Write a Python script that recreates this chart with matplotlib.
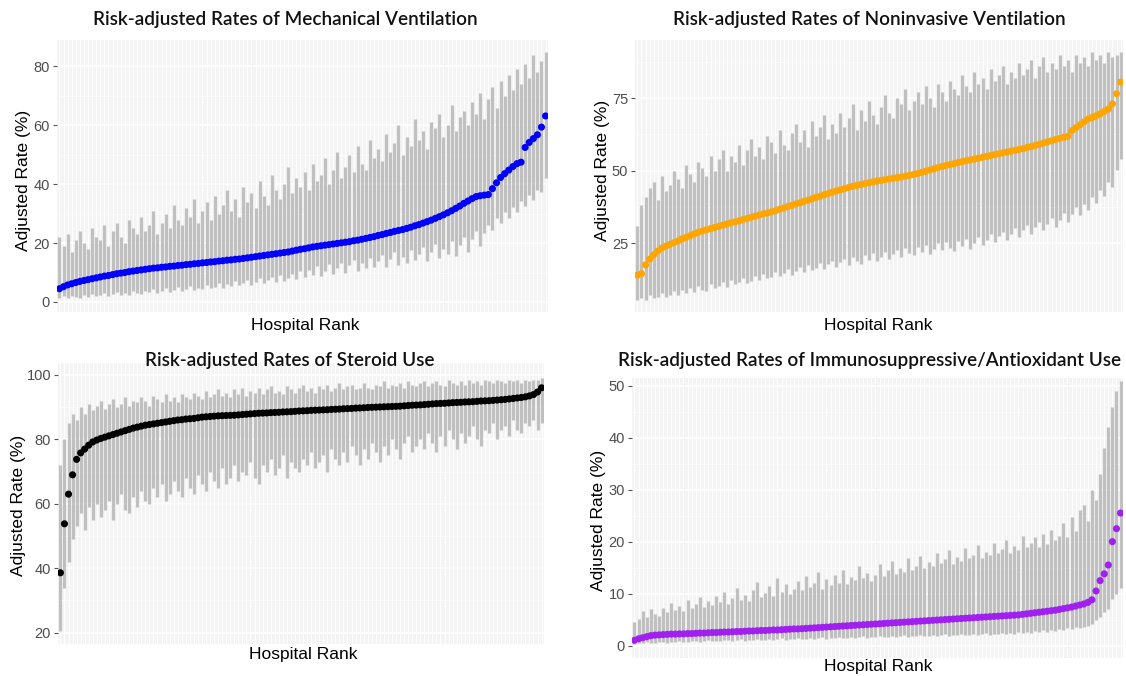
"""
plot.py

Risk-adjusted hospital rates for four treatments, hospitals ranked by
adjusted rate, with 95% intervals drawn as grey bars behind each point.
"""

import matplotlib
matplotlib.use("Agg")
import matplotlib.pyplot as plt
import numpy as np

# ── Data (120 ranked hospitals per panel) ──────────────────────────────────────

MECH_RATE = [
    4.5, 5.2, 5.8, 6.2, 6.6, 7.0, 7.3, 7.6, 7.9, 8.2,
    8.5, 8.8, 9.0, 9.3, 9.6, 9.8, 10.0, 10.3, 10.5, 10.7,
    10.9, 11.1, 11.3, 11.5, 11.6, 11.8, 11.9, 12.1, 12.2, 12.4,
    12.5, 12.7, 12.8, 13.0, 13.1, 13.3, 13.4, 13.6, 13.7, 13.9,
    14.0, 14.2, 14.3, 14.5, 14.6, 14.8, 15.0, 15.2, 15.4, 15.6,
    15.8, 16.0, 16.2, 16.4, 16.6, 16.8, 17.0, 17.3, 17.6, 17.9,
    18.1, 18.4, 18.7, 18.9, 19.1, 19.3, 19.5, 19.7, 19.9, 20.1,
    20.3, 20.5, 20.8, 21.0, 21.3, 21.6, 21.9, 22.2, 22.6, 22.9,
    23.3, 23.6, 24.0, 24.3, 24.6, 25.0, 25.4, 25.9, 26.3, 26.8,
    27.3, 27.8, 28.4, 29.0, 29.6, 30.3, 31.0, 31.8, 32.6, 33.5,
    34.3, 35.1, 35.8, 36.1, 36.3, 36.5, 38.5, 40.5, 42.3, 43.6,
    44.8, 46.0, 47.0, 47.5, 52.5, 54.2, 55.5, 56.8, 59.4, 63.2,
]
MECH_LO = [
    1.3, 1.9, 1.2, 2.2, 1.7, 1.5, 2.4, 1.8, 2.7, 2.0,
    2.3, 3.1, 2.1, 2.8, 3.4, 2.5, 3.0, 2.4, 3.6, 3.2,
    2.8, 3.9, 3.3, 4.4, 3.0, 3.7, 4.6, 3.4, 4.1, 5.0,
    3.8, 4.5, 5.4, 4.0, 4.9, 4.3, 5.8, 4.7, 5.2, 6.3,
    4.9, 6.0, 5.4, 7.1, 5.7, 6.5, 7.5, 5.9, 6.9, 8.0,
    6.4, 7.6, 8.6, 6.8, 9.0, 7.3, 8.3, 9.6, 7.7, 10.4,
    8.5, 11.0, 9.0, 12.2, 8.7, 10.6, 12.8, 9.5, 11.5, 13.4,
    10.0, 12.4, 14.2, 10.6, 13.1, 11.4, 15.0, 12.0, 13.8, 16.1,
    11.8, 14.6, 16.9, 12.6, 15.4, 13.4, 17.7, 14.1, 16.2, 18.8,
    13.9, 17.0, 19.6, 15.0, 18.1, 16.2, 20.8, 15.6, 19.3, 22.0,
    17.1, 21.4, 24.1, 19.0, 23.4, 26.3, 24.6, 28.4, 26.7, 30.5,
    28.6, 32.4, 30.6, 34.3, 32.7, 36.5, 34.6, 38.2, 37.4, 42.0,
]
MECH_HI = [
    22, 19, 23, 17, 21, 24, 20, 18, 25, 22,
    21, 26, 19, 24, 27, 22, 20, 28, 25, 23,
    29, 24, 26, 31, 23, 27, 30, 25, 33, 28,
    26, 32, 29, 35, 27, 31, 34, 28, 36, 30,
    33, 38, 31, 35, 29, 39, 34, 37, 32, 41,
    36, 33, 43, 38, 35, 40, 46, 37, 42, 39,
    44, 38, 47, 41, 43, 49, 40, 45, 51, 42,
    46, 50, 44, 53, 47, 45, 55, 49, 52, 48,
    57, 51, 54, 60, 50, 56, 53, 62, 55, 58,
    52, 61, 59, 64, 56, 60, 67, 58, 63, 65,
    60, 68, 64, 71, 62, 69, 73, 66, 75, 70,
    77, 72, 79, 74, 81, 76, 84, 78, 82, 85,
]

NIV_RATE = [
    14.0, 14.5, 17.5, 19.5, 21.0, 22.3, 23.3, 24.0, 24.6, 25.2,
    25.8, 26.5, 27.0, 27.6, 28.2, 28.8, 29.2, 29.6, 30.0, 30.4,
    30.8, 31.2, 31.6, 32.0, 32.3, 32.7, 33.1, 33.5, 33.9, 34.3,
    34.7, 35.1, 35.4, 35.8, 36.2, 36.7, 37.1, 37.6, 38.0, 38.5,
    38.9, 39.4, 39.8, 40.3, 40.8, 41.2, 41.7, 42.1, 42.6, 43.0,
    43.4, 43.8, 44.2, 44.6, 44.9, 45.2, 45.5, 45.8, 46.1, 46.4,
    46.6, 46.9, 47.1, 47.4, 47.6, 47.8, 48.1, 48.4, 48.7, 49.0,
    49.4, 49.8, 50.2, 50.6, 51.0, 51.4, 51.8, 52.1, 52.4, 52.8,
    53.1, 53.4, 53.7, 54.0, 54.3, 54.6, 54.9, 55.2, 55.5, 55.8,
    56.1, 56.4, 56.7, 57.0, 57.3, 57.6, 58.0, 58.3, 58.7, 59.1,
    59.5, 59.9, 60.3, 60.7, 61.1, 61.5, 61.8, 63.8, 64.8, 65.8,
    66.8, 67.8, 68.3, 68.9, 69.6, 70.4, 71.2, 73.0, 76.5, 80.5,
]
NIV_LO = [
    5.5, 6.2, 5.4, 7.0, 6.0, 6.6, 7.8, 6.3, 7.3, 8.4,
    7.0, 8.9, 7.7, 9.6, 8.2, 10.4, 9.0, 8.6, 11.0, 9.4,
    10.1, 11.8, 9.9, 12.4, 10.8, 11.5, 13.0, 11.2, 12.0, 13.7,
    12.3, 14.4, 12.9, 13.5, 15.2, 13.8, 14.6, 16.0, 14.1, 15.5,
    16.8, 15.0, 17.5, 15.9, 16.4, 18.3, 16.2, 17.8, 19.0, 16.9,
    18.6, 19.7, 17.4, 20.3, 18.9, 17.9, 20.9, 19.3, 21.5, 18.8,
    20.4, 22.1, 19.6, 21.2, 22.7, 20.2, 23.2, 21.6, 20.8, 23.8,
    22.0, 24.3, 21.4, 23.0, 24.9, 22.6, 25.4, 23.4, 22.2, 25.9,
    24.0, 26.4, 23.1, 25.0, 27.0, 24.4, 26.2, 28.1, 25.3, 27.4,
    29.0, 26.0, 28.3, 30.1, 27.1, 29.4, 31.2, 28.0, 30.5, 32.4,
    29.4, 31.6, 33.8, 30.7, 33.0, 35.4, 32.2, 35.0, 37.5, 34.8,
    38.6, 36.5, 41.0, 38.8, 43.4, 41.2, 46.0, 44.5, 50.2, 54.0,
]
NIV_HI = [
    31, 38, 41, 44, 46, 40, 48, 43, 45, 50,
    47, 44, 52, 49, 46, 53, 51, 48, 55, 50,
    54, 57, 50, 55, 53, 59, 52, 57, 61, 55,
    58, 54, 62, 60, 56, 64, 59, 57, 63, 66,
    60, 64, 58, 67, 62, 65, 69, 61, 66, 63,
    70, 65, 68, 73, 64, 71, 67, 74, 69, 66,
    72, 76, 70, 68, 75, 73, 78, 71, 74, 77,
    73, 79, 75, 72, 80, 77, 74, 81, 78, 76,
    83, 79, 77, 84, 80, 82, 78, 85, 81, 83,
    86, 80, 84, 82, 87, 83, 85, 88, 82, 86,
    89, 84, 87, 85, 90, 86, 88, 84, 90, 87,
    89, 86, 91, 88, 90, 87, 91, 89, 90, 91,
]

STEROID_RATE = [
    38.6, 53.8, 63.0, 69.0, 73.8, 75.8, 77.0, 78.2, 79.2, 79.8,
    80.3, 80.7, 81.1, 81.5, 81.9, 82.3, 82.7, 83.1, 83.5, 83.8,
    84.1, 84.4, 84.6, 84.8, 85.0, 85.2, 85.4, 85.6, 85.8, 86.0,
    86.1, 86.3, 86.4, 86.5, 86.7, 86.9, 87.0, 87.1, 87.2, 87.3,
    87.35, 87.4, 87.45, 87.5, 87.6, 87.7, 87.8, 87.9, 88.0, 88.1,
    88.15, 88.2, 88.3, 88.35, 88.4, 88.5, 88.55, 88.6, 88.7, 88.8,
    88.85, 88.9, 89.0, 89.05, 89.1, 89.15, 89.2, 89.3, 89.35, 89.4,
    89.5, 89.55, 89.6, 89.7, 89.75, 89.8, 89.9, 89.95, 90.0, 90.05,
    90.1, 90.15, 90.2, 90.25, 90.3, 90.4, 90.5, 90.6, 90.65, 90.7,
    90.8, 90.9, 91.0, 91.1, 91.15, 91.2, 91.3, 91.4, 91.45, 91.5,
    91.6, 91.65, 91.7, 91.8, 91.9, 91.95, 92.0, 92.1, 92.2, 92.3,
    92.4, 92.55, 92.7, 92.85, 93.0, 93.2, 93.5, 93.9, 94.7, 96.0,
]
STEROID_LO = [
    20.5, 34, 42, 49, 53, 57, 52, 59, 55, 60,
    56, 58, 61, 55, 60, 63, 58, 57, 62, 59,
    64, 61, 60, 65, 62, 66, 61, 63, 67, 64,
    62, 68, 65, 63, 69, 66, 64, 70, 67, 65,
    71, 66, 68, 72, 67, 70, 69, 73, 68, 66,
    72, 70, 74, 69, 71, 75, 68, 73, 71, 70,
    74, 72, 76, 71, 73, 75, 70, 77, 74, 72,
    76, 73, 78, 75, 72, 77, 74, 79, 76, 73,
    78, 75, 80, 77, 74, 79, 81, 76, 78, 80,
    77, 82, 79, 76, 81, 78, 83, 80, 77, 82,
    79, 81, 84, 80, 78, 83, 82, 85, 80, 83,
    84, 81, 86, 83, 82, 85, 84, 86, 83, 85,
]
STEROID_HI = [
    72, 80, 85, 88, 86, 90, 88, 91, 89, 90.5,
    92, 89.5, 91, 92.5, 90, 91, 93, 90.5, 92, 91.5,
    93, 92, 90.5, 93.5, 92.5, 91.5, 94, 92, 93, 91.5,
    94, 93, 92.5, 94.5, 93.5, 92.5, 95, 93, 94, 95.5,
    93.5, 94.5, 93, 95.5, 94, 96, 93.5, 95, 94.5, 96,
    94, 95.5, 96.5, 94.5, 95, 94, 96.5, 95.5, 94.5, 96,
    97, 95, 96, 94.5, 96.5, 95.5, 97, 95, 96, 97.5,
    95.5, 96.5, 97, 95.5, 96, 97.5, 96, 95.5, 97, 96.5,
    98, 96, 97, 96.5, 97.5, 96, 98, 97, 96.5, 97.5,
    98, 96.5, 97.5, 98, 97, 96.5, 98.5, 97.5, 97, 98,
    97, 98.5, 97.5, 98, 97, 98.5, 98, 97.5, 98.5, 98,
    97.5, 98.5, 98, 98.5, 97.5, 98.5, 98, 98.5, 98.5, 99,
]

IMMUNO_RATE = [
    1.0, 1.3, 1.5, 1.7, 1.9, 2.0, 2.05, 2.1, 2.15, 2.2,
    2.2, 2.25, 2.25, 2.3, 2.3, 2.35, 2.4, 2.4, 2.45, 2.5,
    2.5, 2.55, 2.6, 2.6, 2.65, 2.7, 2.7, 2.75, 2.8, 2.8,
    2.85, 2.9, 2.9, 2.95, 3.0, 3.0, 3.05, 3.1, 3.15, 3.2,
    3.2, 3.25, 3.3, 3.35, 3.4, 3.45, 3.5, 3.55, 3.6, 3.65,
    3.7, 3.75, 3.8, 3.85, 3.9, 3.95, 4.0, 4.05, 4.1, 4.15,
    4.2, 4.25, 4.3, 4.35, 4.4, 4.45, 4.5, 4.55, 4.6, 4.65,
    4.7, 4.75, 4.8, 4.85, 4.9, 4.95, 5.0, 5.05, 5.1, 5.15,
    5.2, 5.25, 5.3, 5.35, 5.4, 5.45, 5.5, 5.55, 5.6, 5.65,
    5.7, 5.75, 5.8, 5.85, 5.9, 6.0, 6.1, 6.2, 6.3, 6.4,
    6.5, 6.6, 6.7, 6.8, 6.95, 7.1, 7.25, 7.4, 7.6, 7.8,
    8.0, 8.3, 8.8, 10.5, 12.5, 13.8, 15.5, 20.0, 22.5, 25.5,
]
IMMUNO_LO = [
    0.3, 0.4, 0.4, 0.6, 0.5, 0.5, 0.7, 0.6, 0.5, 0.7,
    0.6, 0.8, 0.7, 0.6, 0.8, 0.9, 0.7, 0.8, 1.0, 0.8,
    0.9, 0.8, 1.0, 1.1, 0.9, 1.0, 1.2, 0.9, 1.1, 1.0,
    1.2, 1.0, 1.1, 1.3, 1.1, 1.2, 1.4, 1.1, 1.3, 1.2,
    1.4, 1.2, 1.3, 1.5, 1.3, 1.4, 1.6, 1.3, 1.5, 1.4,
    1.6, 1.4, 1.5, 1.7, 1.5, 1.6, 1.8, 1.5, 1.7, 1.6,
    1.8, 1.6, 1.7, 1.9, 1.7, 1.8, 2.0, 1.7, 1.9, 1.8,
    2.0, 1.8, 1.9, 2.1, 1.9, 2.0, 2.2, 1.9, 2.1, 2.0,
    2.2, 2.0, 2.1, 2.3, 2.1, 2.2, 2.4, 2.1, 2.3, 2.2,
    2.4, 2.2, 2.5, 2.3, 2.6, 2.4, 2.7, 2.5, 2.8, 2.6,
    2.9, 2.7, 3.0, 2.8, 3.2, 3.0, 3.3, 3.1, 3.5, 3.3,
    3.6, 3.8, 4.2, 5.0, 5.5, 6.5, 7.0, 9.0, 10.0, 11.0,
]
IMMUNO_HI = [
    4.5, 5.2, 6.6, 5.4, 7.0, 6.1, 5.6, 7.3, 6.4, 8.2,
    6.9, 7.6, 6.6, 8.8, 7.2, 8.0, 9.3, 7.4, 8.5, 7.8,
    9.6, 8.3, 10.4, 8.0, 9.1, 11.0, 8.7, 9.8, 8.5, 10.6,
    12.2, 9.3, 10.1, 11.5, 9.6, 13.0, 10.3, 11.9, 9.9, 10.9,
    12.5, 10.6, 13.4, 11.2, 12.0, 14.1, 10.9, 12.8, 11.6, 13.6,
    12.1, 14.6, 11.8, 13.2, 12.6, 15.3, 13.0, 14.0, 12.4, 13.6,
    15.6, 13.4, 14.5, 16.2, 13.8, 15.0, 14.2, 16.8, 14.6, 15.4,
    17.2, 15.0, 16.0, 15.4, 17.8, 15.8, 16.6, 18.3, 15.7, 17.0,
    16.3, 18.8, 16.8, 17.5, 19.4, 16.9, 18.1, 17.4, 19.8, 17.8,
    18.6, 20.4, 17.9, 19.1, 18.3, 21.0, 18.9, 19.7, 20.8, 19.0,
    21.4, 19.6, 22.3, 20.4, 21.1, 23.6, 20.8, 24.7, 22.0, 26.0,
    27.0, 24.0, 30.0, 28.0, 33.0, 38.0, 42.0, 46.0, 49.0, 51.0,
]

TITLES = [
    "Risk-adjusted Rates of Mechanical Ventilation",
    "Risk-adjusted Rates of Noninvasive Ventilation",
    "Risk-adjusted Rates of Steroid Use",
    "Risk-adjusted Rates of Immunosuppressive/Antioxidant Use",
]
Y_TICKS = [
    [0, 20, 40, 60, 80],
    [25, 50, 75],
    [20, 40, 60, 80, 100],
    [0, 10, 20, 30, 40, 50],
]
POINT_COLORS = ["#0000FF", "#FFA500", "#000000", "#A020F0"]

# ── Layout (pixels of the 1126x676 canvas) ─────────────────────────────────────

W, H = 1126, 676

PANELS = [
    # axes box (left, top, right, bottom), ylim, title centre, xlabel centre, ylabel centre
    {"box": (57, 40, 548, 312), "ylim": (-3.4, 89.0),
     "title": (285, 20), "xlab": (305, 325), "ylab": (24, 180)},
    {"box": (635, 40, 1123, 312), "ylim": (1.3, 95.0),
     "title": (869, 20), "xlab": (878, 325), "ylab": (602, 170)},
    {"box": (58, 363, 544, 644), "ylim": (16.5, 103.7),
     "title": (290, 360), "xlab": (303, 655), "ylab": (19, 505)},
    {"box": (632, 378, 1123, 658), "ylim": (-2.4, 51.5),
     "title": (870, 360), "xlab": (878, 667), "ylab": (598, 520)},
]

SERIES = [
    (MECH_RATE, MECH_LO, MECH_HI),
    (NIV_RATE, NIV_LO, NIV_HI),
    (STEROID_RATE, STEROID_LO, STEROID_HI),
    (IMMUNO_RATE, IMMUNO_LO, IMMUNO_HI),
]


def fx(px):
    return px / W


def fy(py):
    return 1 - py / H


def draw_panel(fig, cfg, rate, lo, hi, color, yticks, title):
    l, t, r, b = cfg["box"]
    ax = fig.add_axes([fx(l), fy(b), fx(r) - fx(l), fy(t) - fy(b)])
    ax.set_facecolor("#F4F4F4")

    x = np.arange(len(rate))
    ax.set_xlim(-0.6, len(rate) - 0.4)
    ax.set_ylim(*cfg["ylim"])

    # ggplot-style grid: white line per hospital + major/minor horizontals
    for xi in x:
        ax.axvline(xi, color="white", lw=0.7, zorder=0)
    step = yticks[1] - yticks[0]
    for yt in yticks:
        ax.axhline(yt, color="white", lw=1.1, zorder=0)
        ax.axhline(yt + step / 2, color="white", lw=0.5, zorder=0)

    ax.vlines(x, lo, hi, color="#C0C0C0", lw=2.3, zorder=2)
    ax.scatter(x, rate, s=26, color=color, edgecolors="none", zorder=3)

    ax.set_xticks([])
    ax.set_yticks(yticks)
    ax.set_yticklabels([str(v) for v in yticks], fontsize=10.5,
                       color="#4D4D4D", family="Liberation Sans")
    ax.tick_params(axis="y", length=3, width=0.8, color="#555555", pad=2)
    for side in ax.spines.values():
        side.set_visible(False)

    fig.text(fx(cfg["title"][0]), fy(cfg["title"][1]), title,
             ha="center", va="center", fontsize=13.6, family="Lato",
             fontweight="semibold", color="#111111")
    fig.text(fx(cfg["xlab"][0]), fy(cfg["xlab"][1]), "Hospital Rank",
             ha="center", va="center", fontsize=12.5, family="Liberation Sans")
    fig.text(fx(cfg["ylab"][0]), fy(cfg["ylab"][1]), "Adjusted Rate (%)",
             ha="center", va="center", rotation=90, fontsize=12.5,
             family="Liberation Sans")
    return ax


def main():
    fig = plt.figure(figsize=(W / 100, H / 100), dpi=100)
    fig.patch.set_facecolor("white")

    for cfg, (rate, lo, hi), color, yticks, title in zip(
            PANELS, SERIES, POINT_COLORS, Y_TICKS, TITLES):
        draw_panel(fig, cfg, rate, lo, hi, color, yticks, title)

    fig.savefig("out.png", dpi=100)


if __name__ == "__main__":
    main()
